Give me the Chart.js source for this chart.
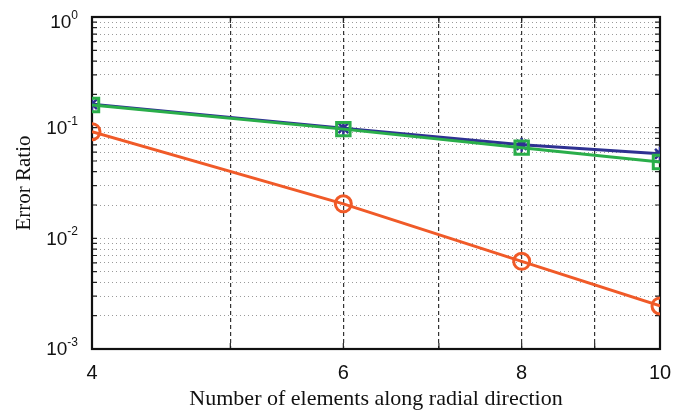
<!DOCTYPE html>
<html>
<head>
<meta charset="utf-8">
<script src="https://cdn.jsdelivr.net/npm/chart.js@4/dist/chart.umd.min.js"></script>
<style>
  html, body { margin: 0; padding: 0; background: #fff; }
</style>
</head>
<body>
<canvas id="errChart" width="680" height="412"></canvas>
<script>
// elements along radial direction
const xValues = [4, 6, 8, 10];
const xTickValues = [4, 5, 6, 7, 8, 9, 10];
const xTickLabels = ['4', '', '6', '', '8', '', '10'];

// error ratios
const seriesBlue = [0.163, 0.099, 0.070, 0.058];
const seriesGreen = [0.160, 0.097, 0.066, 0.049];
const seriesRed = [0.092, 0.0205, 0.0062, 0.00245];

// y decades and their exponent labels
const yDecades = [0.001, 0.01, 0.1, 1];
const yExponents = ['-3', '-2', '-1', '0'];

// minor grid positions: 1..9 times each decade
const yGridValues = [];
yDecades.forEach((d, i) => {
    if (i === yDecades.length - 1) { yGridValues.push(d); return; }
    for (let m = 1; m <= 9; m++) yGridValues.push(m * d);
});

const toPoints = arr => xValues.map((x, i) => ({ x: x, y: arr[i] }));

// frame, inward ticks and the 10^n labels
const frameAndLabels = {
    id: 'frameAndLabels',
    beforeDatasetsDraw(chart) {
        const { ctx, chartArea: a, scales } = chart;
        ctx.save();
        ctx.strokeStyle = '#222';
        ctx.lineWidth = 1.2;
        ctx.beginPath();
        yGridValues.forEach(v => {
            const y = scales.y.getPixelForValue(v);
            ctx.moveTo(a.left, y); ctx.lineTo(a.left + 5, y);
            ctx.moveTo(a.right, y); ctx.lineTo(a.right - 5, y);
        });
        xTickValues.forEach(v => {
            const x = scales.x.getPixelForValue(v);
            ctx.moveTo(x, a.bottom); ctx.lineTo(x, a.bottom - 6);
            ctx.moveTo(x, a.top); ctx.lineTo(x, a.top + 6);
        });
        ctx.stroke();
        ctx.lineWidth = 2.2;
        ctx.strokeStyle = '#111';
        ctx.strokeRect(a.left, a.top, a.width, a.height);
        ctx.restore();
    },
    afterDraw(chart) {
        const { ctx, scales } = chart;
        const rightEdge = 78;
        ctx.save();
        ctx.fillStyle = '#111';
        yDecades.forEach((d, i) => {
            let y = scales.y.getPixelForValue(d);
            if (y < 22) y = 22;
            ctx.font = '12px "Liberation Sans", Arial, sans-serif';
            ctx.textAlign = 'right';
            ctx.textBaseline = 'alphabetic';
            ctx.fillText(yExponents[i], rightEdge, y - 3);
            const expW = ctx.measureText(yExponents[i]).width;
            ctx.font = '19px "Liberation Sans", Arial, sans-serif';
            ctx.textBaseline = 'middle';
            ctx.fillText('10', rightEdge - expW, y + 1);
        });
        ctx.restore();
    }
};

const ctx = document.getElementById('errChart').getContext('2d');

new Chart(ctx, {
    type: 'line',
    data: {
        datasets: [
            {
                label: 'Series 1',
                data: toPoints(seriesBlue),
                borderColor: '#2e3192',
                backgroundColor: 'transparent',
                borderWidth: 3,
                pointStyle: 'star',
                pointRadius: 7,
                pointBorderWidth: 2.5,
                order: 1
            },
            {
                label: 'Series 2',
                data: toPoints(seriesGreen),
                borderColor: '#2aae4a',
                backgroundColor: 'transparent',
                borderWidth: 3,
                pointStyle: 'rect',
                pointRadius: 9.5,
                pointBorderWidth: 3,
                order: 0
            },
            {
                label: 'Series 3',
                data: toPoints(seriesRed),
                borderColor: '#f05a28',
                backgroundColor: 'transparent',
                borderWidth: 3,
                pointStyle: 'circle',
                pointRadius: 8,
                pointBorderWidth: 3,
                order: 2
            }
        ]
    },
    options: {
        responsive: false,
        animation: false,
        layout: { padding: { top: 17, right: 20, left: 0, bottom: 0 } },
        plugins: {
            legend: { display: false },
            tooltip: { enabled: false }
        },
        scales: {
            x: {
                type: 'logarithmic',
                min: 4,
                max: 10,
                afterBuildTicks: s => { s.ticks = xTickValues.map(v => ({ value: v })); },
                afterFit: s => { s.height = 63; s.paddingLeft = 0; s.paddingRight = 0; },
                grid: {
                    drawTicks: false,
                    color: c => (c.tick && (c.tick.value === 4 || c.tick.value === 10)) ? 'transparent' : '#333',
                    lineWidth: 1.2
                },
                border: { display: false, dash: [4, 3] },
                ticks: {
                    padding: 12,
                    color: '#111',
                    font: { family: '"Liberation Sans", Arial, sans-serif', size: 20 },
                    autoSkip: false,
                    maxRotation: 0,
                    callback: (value, index) => xTickLabels[xTickValues.indexOf(value)] || ''
                },
                title: {
                    display: true,
                    text: 'Number of elements along radial direction',
                    color: '#111',
                    font: { family: '"Liberation Serif", "Times New Roman", serif', size: 22 },
                    padding: 0
                }
            },
            y: {
                type: 'logarithmic',
                min: 0.001,
                max: 1,
                afterBuildTicks: s => { s.ticks = yGridValues.map(v => ({ value: v })); },
                afterFit: s => { s.width = 92; },
                grid: {
                    drawTicks: false,
                    color: c => (c.tick && (c.tick.value === 0.001 || c.tick.value === 1)) ? 'transparent' : '#9a9a9a',
                    lineWidth: 1
                },
                border: { display: false, dash: [1, 3] },
                ticks: { display: false },
                title: {
                    display: true,
                    text: 'Error Ratio',
                    color: '#111',
                    font: { family: '"Liberation Serif", "Times New Roman", serif', size: 21 },
                    padding: { top: 12 }
                }
            }
        }
    },
    plugins: [frameAndLabels]
});
</script>
</body>
</html>
